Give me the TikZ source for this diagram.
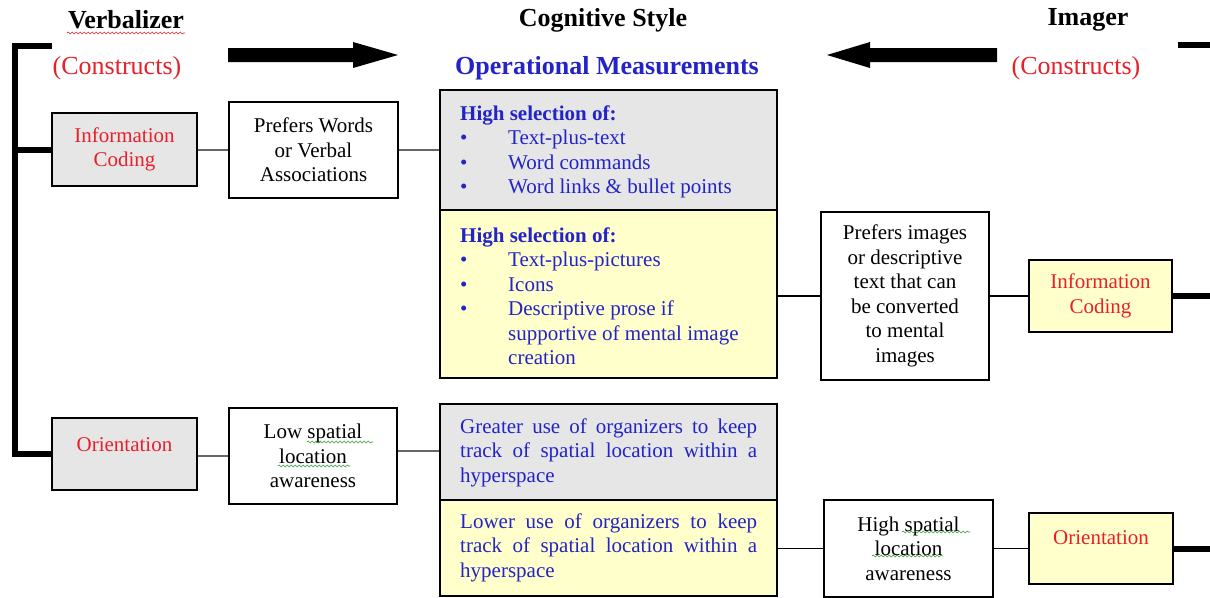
\documentclass[tikz,border=0pt]{standalone}
\usepackage{fontspec}
\setmainfont{Liberation Serif}
\usetikzlibrary{decorations.pathmorphing}
\definecolor{boxgray}{HTML}{E6E6E6}
\definecolor{boxyellow}{HTML}{FFFFCC}
\definecolor{cred}{HTML}{E8202A}
\definecolor{cblue}{HTML}{2323C8}
\definecolor{ogreen}{HTML}{3A9A3A}
\newcommand{\bxfont}{\fontsize{21}{24.5}\selectfont}
\newcommand{\hdfont}{\fontsize{26}{30}\selectfont}
\begin{document}
\begin{tikzpicture}[x=1pt,y=-1pt,
  box/.style={draw=black, line width=1.5pt, inner sep=0pt, align=center, font=\bxfont},
  wh/.style 2 args={minimum width=#1pt, minimum height=#2pt},
  gbox/.style={box, fill=boxgray},
  ybox/.style={box, fill=boxyellow},
  wbox/.style={box, fill=white},
  redtxt/.style={text=cred, font=\bxfont, inner sep=0pt},
  head/.style={font=\hdfont\bfseries, inner sep=0pt},
  conn/.style={draw=black!60, line width=1.8pt},
  connk/.style={draw=black, line width=1.4pt},
  brk/.style={draw=black, line width=6pt},
  bigarrow/.style={fill=black},
  meas/.style={text=cblue, font=\bxfont, inner sep=0pt, anchor=north west},
  wavyred/.style={draw=cred, line width=0.6pt, decorate, decoration={snake, amplitude=1pt, segment length=4pt}},
  wavygreen/.style={draw=ogreen, line width=0.6pt, decorate, decoration={snake, amplitude=1pt, segment length=4pt}}
]
\useasboundingbox (0,0) rectangle (1210,597);
\fill[white] (0,0) rectangle (1210,597);

% headers
\node[head] (hverb) at (126,20) {Verbalizer};
\node[head] (hcog) at (603,20) {Cognitive Style};
\node[head] (himg) at (1088,20) {Imager};
\node[text=cred, font=\hdfont, inner sep=0pt] (cl) at (117,68) {(Constructs)};
\node[text=cred, font=\hdfont, inner sep=0pt] (cr) at (1076,68) {(Constructs)};
\node[head, text=cblue] (opm) at (607,68) {Operational Measurements};
\draw[wavyred] (67,33) -- (185,33);

% big arrows
\fill[bigarrow] (228,48) -- (353,48) -- (353,42) -- (398,55) -- (353,68) -- (353,62) -- (228,62) -- cycle;
\fill[bigarrow] (997,48) -- (870,48) -- (870,42) -- (827,55) -- (870,68) -- (870,62) -- (997,62) -- cycle;

% left column
\node[gbox, wh={145}{73}, text=cred] (icl) at (124.5,149.5) {Information\\Coding};
\node[wbox, wh={169}{96}] (pw) at (313.5,150) {Prefers Words\\or Verbal\\Associations};
\node[gbox, wh={145}{72}] (ol) at (124.5,454) {};
\node[redtxt] (oltxt) at (124.5,445) {Orientation};
\node[wbox, wh={168}{96}] (low) at (313,456) {Low spatial\\location\\awareness};
\draw[wavygreen] (307,442) -- (373,442);
\draw[wavygreen] (278,466) -- (350,466);

% measurement column
\node[gbox, wh={337}{120}] (mg1) at (608.5,150) {};
\node[ybox, wh={337}{168}] (my1) at (608.5,294) {};
\node[gbox, wh={337}{96}] (mg2) at (608.5,452) {};
\node[ybox, wh={337}{96}] (my2) at (608.5,548) {};

\node[meas] (t1) at (460,103) {\begin{tabular}{@{}p{48pt}@{}l@{}}
\multicolumn{2}{@{}l@{}}{\bfseries High selection of:}\\
\textbullet & Text-plus-text\\
\textbullet & Word commands\\
\textbullet & Word links \& bullet points
\end{tabular}};
\node[meas] (t2) at (460,225) {\begin{tabular}{@{}p{48pt}@{}l@{}}
\multicolumn{2}{@{}l@{}}{\bfseries High selection of:}\\
\textbullet & Text-plus-pictures\\
\textbullet & Icons\\
\textbullet & Descriptive prose if\\
 & supportive of mental image\\
 & creation
\end{tabular}};
\node[meas, text width=297pt, align=justify] (t3) at (460,416) {\strut Greater use of organizers to keep\linebreak track of spatial location within a\linebreak hyperspace};
\node[meas, text width=297pt, align=justify] (t4) at (460,511) {\strut Lower use of organizers to keep\linebreak track of spatial location within a\linebreak hyperspace};

% right column
\node[wbox, wh={168}{168}] (pimg) at (905,296) {Prefers images\\or descriptive\\text that can\\be converted\\to mental\\images};
\node[ybox, wh={143}{72}, text=cred] (icr) at (1100.5,296) {Information\\Coding};
\node[wbox, wh={169}{97}] (hs) at (908.5,548.5) {High spatial\\location\\awareness};
\draw[wavygreen] (902,532) -- (970,532);
\draw[wavygreen] (872,556) -- (943,556);
\node[ybox, wh={144}{71}] (orr) at (1101,548.5) {};
\node[redtxt] (orrtxt) at (1101,538) {Orientation};

% connectors
\draw[conn] (icl.east |- pw.west) -- (pw.west);
\draw[conn] (pw.east) -- (mg1.west |- pw.east);
\draw[conn] (ol.east |- low.west) -- (low.west);
\draw[conn] (low.east |- 0,451) -- (mg2.west |- 0,451);
\draw[connk] (my1.east |- pimg.west) -- (pimg.west);
\draw[connk] (pimg.east) -- (icr.west |- pimg.east);
\draw[connk] (my2.east |- hs.west) -- (hs.west);
\draw[connk] (hs.east) -- (orr.west |- hs.east);

% brackets
\coordinate (vt) at (52,46);
\coordinate (vc) at (15,46);
\draw[brk] (vt) -- (vc) |- (ol.west);
\draw[brk] (vc |- icl.west) -- (icl.west);
\coordinate (rt) at (1178,45);
\coordinate (rc) at (1212.5,45);
\draw[brk] (rt) -- (rc) |- (orr.east);
\draw[brk] (rc |- icr.east) -- (icr.east);
\end{tikzpicture}
\end{document}
